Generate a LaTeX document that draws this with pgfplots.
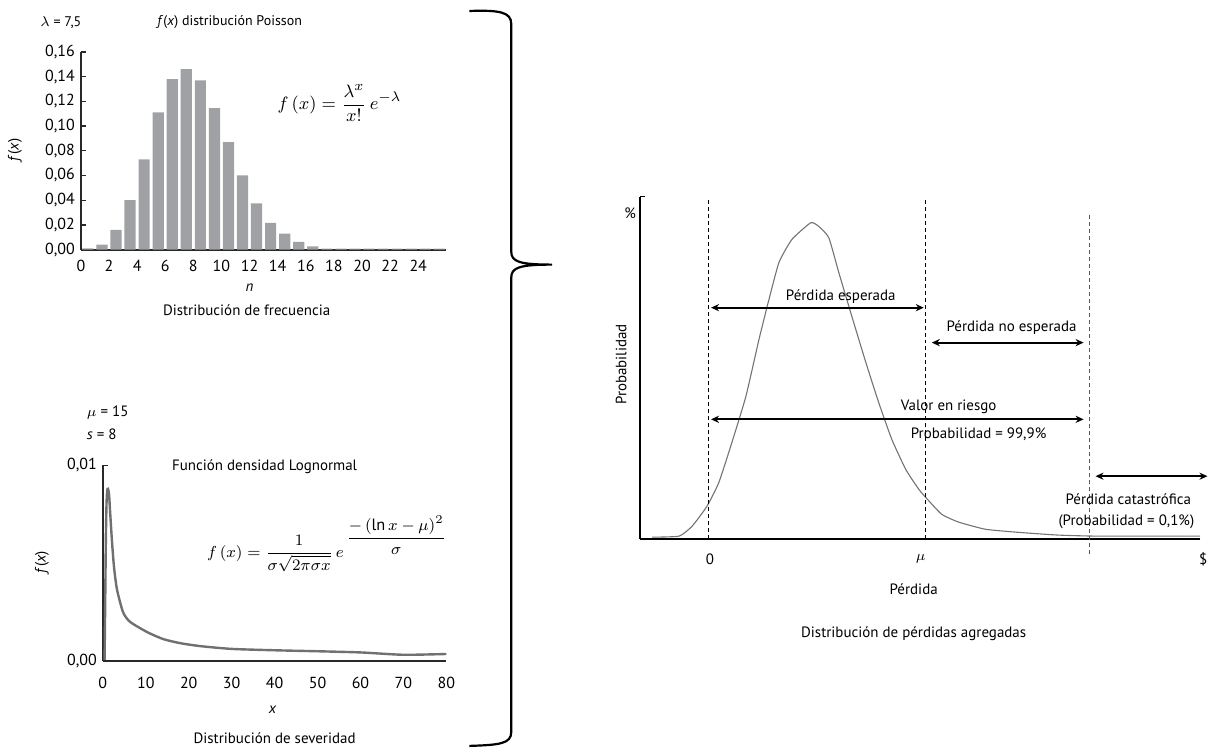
\documentclass[border=0pt]{standalone}
\usepackage{amsmath}
\usepackage{fontspec}
\setmainfont{PT Sans}
\usepackage{pgfplots}
\usepackage{pgfplotstable}
\pgfplotsset{compat=1.18}
\usetikzlibrary{arrows.meta}
\definecolor{barg}{RGB}{160,161,165}
\definecolor{curveg}{RGB}{112,112,112}
\definecolor{axg}{RGB}{40,40,40}
\newcommand\fs[1]{\fontsize{#1}{#1}\selectfont}

\pgfplotstableread{
n p
0.5 0.0010
1.5 0.0040
2.5 0.0160
3.5 0.0400
4.5 0.0730
5.5 0.1110
6.5 0.1380
7.5 0.1460
8.5 0.1370
9.5 0.1145
10.5 0.0870
11.5 0.0600
12.5 0.0374
13.5 0.0216
14.5 0.0130
15.5 0.0062
16.5 0.0027
17.5 0.0008
18.5 0.0008
19.5 0.0008
20.5 0.0008
21.5 0.0008
22.5 0.0008
23.5 0.0008
24.5 0.0008
25.5 0.0008
}\poisson

\pgfplotstableread{
x y
0.40 0.0000
0.55 0.0030
0.70 0.0062
0.85 0.0080
1.00 0.0087
1.20 0.0088
1.45 0.0085
1.70 0.0076
2.10 0.0062
2.60 0.0048
3.30 0.00365
4.70 0.0025
6.35 0.0020
10.4 0.00147
14.1 0.00112
18.1 0.00091
22.8 0.00076
30 0.00062
40 0.00055
50 0.00050
60 0.00044
70 0.00032
80 0.00036
}\lognorm

\pgfplotstableread{
x y
-25.7 0.6
-13.3 0.9
-7.3 3.8
-0.5 9.6
5.0 16.6
11.0 28.3
17.4 41.7
23.4 58.3
28.0 70.0
32.6 80.8
38.5 87.5
47.2 92.4
50.9 91.3
55.5 88.0
60.1 77.8
66.1 65.0
72.5 51.6
78.4 39.9
84.4 29.2
90.8 20.4
96.8 14.6
100 12.2
107.3 7.3
115.1 5.0
127.5 2.9
142.7 2.0
161 1.2
179.4 0.9
226 0.9
}\agg

\begin{document}
\begin{tikzpicture}[x=0.5pt,y=-0.5pt]
\path (0,0) rectangle (1214,750);
\coordinate (A1) at (81,250);
\coordinate (A2) at (103,662);
\coordinate (A3) at (641,540);

% ---------------- Poisson ----------------
\begin{axis}[
  at={(A1)}, anchor=south west,
  scale only axis, width=183pt, height=99pt,
  xmin=0, xmax=26, ymin=0, ymax=0.16,
  axis lines*=left,
  axis line style={axg, line width=0.9pt},
  xtick={0,2,...,24},
  ytick={0,0.02,0.04,0.06,0.08,0.10,0.12,0.14,0.16},
  scaled y ticks=false,
  /pgf/number format/fixed,
  /pgf/number format/fixed zerofill,
  /pgf/number format/precision=2,
  /pgf/number format/use comma,
  /pgf/number format/assume math mode=true,
  xticklabel={\pgfmathprintnumber[fixed,precision=0]{\tick}},
  tick label style={font=\fs{8}, text=black},
  xtick style={draw=none},
  ytick style={axg, line width=0.6pt},
  tick align=inside, major tick length=2.5pt,
  xticklabel style={yshift=-1.5pt},
  yticklabel style={xshift=0.5pt},
  clip=false,
]
\addplot[ybar, bar width=5.6pt, fill=barg, draw=none] table[x=n,y=p] {\poisson};
\end{axis}

% ---------------- Lognormal ----------------
\begin{axis}[
  at={(A2)}, anchor=south west,
  scale only axis, width=172pt, height=98pt,
  xmin=0, xmax=80, ymin=0, ymax=0.01,
  axis lines*=left,
  axis line style={axg, line width=0.9pt},
  xtick={0,10,...,80},
  ytick={0,0.01}, yticklabels={{0,00},{0,01}},
  scaled y ticks=false,
  /pgf/number format/assume math mode=true,
  tick label style={font=\fs{8}, text=black},
  xtick style={draw=none},
  ytick style={axg, line width=0.6pt},
  tick align=inside, major tick length=2.5pt,
  xticklabel style={yshift=-4.5pt},
  yticklabel style={xshift=0.5pt},
  clip=false,
]
\addplot[curveg, line width=1.2pt, smooth, tension=0.4] table[x=x,y=y] {\lognorm};
\addplot[axg, line width=0.9pt] coordinates {(0,0) (2.8,0)};
\end{axis}

% ---------------- Aggregate ----------------
\begin{axis}[
  at={(A3)}, anchor=south west,
  scale only axis, width=280.5pt, height=171.5pt,
  xmin=-31.2, xmax=226.1, ymin=0, ymax=100,
  axis lines*=left,
  axis line style={black, line width=0.75pt},
  xtick=\empty,
  ytick={100}, yticklabels={},
  ytick style={black, line width=0.6pt},
  tick align=inside, major tick length=2.5pt,
  clip=false,
]
\addplot[black!55, line width=0.55pt, smooth, tension=0.3] table[x=x,y=y] {\agg};
\draw[black, dash pattern=on 2pt off 1.5pt, line width=0.5pt] (axis cs:0,0) -- (axis cs:0,100);
\draw[black, dash pattern=on 2pt off 1.5pt, line width=0.5pt] (axis cs:100,0) -- (axis cs:100,100);
\draw[black!65, dash pattern=on 2pt off 1.5pt, line width=0.5pt] (axis cs:175.2,-4.4) -- (axis cs:175.2,95.3);
\draw[{Stealth[length=4pt,width=3.6pt]}-{Stealth[length=4pt,width=3.6pt]}, line width=0.9pt] (axis cs:1.4,67.6) -- (axis cs:99.1,67.6);
\draw[{Stealth[length=4pt,width=3.6pt]}-{Stealth[length=4pt,width=3.6pt]}, line width=0.9pt] (axis cs:102.8,57.4) -- (axis cs:172.5,57.4);
\draw[{Stealth[length=4pt,width=3.6pt]}-{Stealth[length=4pt,width=3.6pt]}, line width=0.9pt] (axis cs:1.4,35.0) -- (axis cs:172.5,35.0);
\draw[{Stealth[length=4pt,width=3.6pt]}-{Stealth[length=4pt,width=3.6pt]}, line width=0.9pt] (axis cs:178,18.4) -- (axis cs:229.4,18.4);
\end{axis}

% ---------------- texts: Poisson ----------------
\node[font=\fs{7}] at (61,23) {$\lambda$ = 7,5};
\node[font=\fs{7}] at (230,22) {\textit{f}(\textit{x}) distribución Poisson};
\node[font=\fs{7.5}, rotate=90] at (15,150) {\textit{f}(\textit{x})};
\node[font=\fs{9.5}] at (340,103) {$f\left(x\right)=\dfrac{\lambda^{x}}{x!}\,e^{-\lambda}$};
\node[font=\fs{7.5}] at (250,288) {\textit{n}};
\node[font=\fs{7.5}] at (247,311) {Distribución de frecuencia};

% ---------------- texts: Lognormal ----------------
\node[font=\fs{7.5}, anchor=west] at (80,413) {$\mu$ = 15};
\node[font=\fs{7.5}, anchor=west] at (80,435) {\textit{s} = 8};
\node[font=\fs{7.5}] at (265,467) {Función densidad Lognormal};
\node[font=\fs{7.5}, rotate=90] at (42,563) {\textit{f}(\textit{x})};
\node[font=\fs{8.2}] at (327,545) {$f\left(x\right)=\dfrac{1}{\sigma\sqrt{2\pi\sigma x}}\,e\,\raisebox{7.5pt}{$\dfrac{-\left(\ln x-\mu\right)^{2}}{\sigma}$}$};
\node[font=\fs{7.5}] at (273,711) {\textit{x}};
\node[font=\fs{7.5}] at (275,739) {Distribución de severidad};

% ---------------- brace ----------------
\draw[line width=1.1pt] (470,11) .. controls (500,10) and (512,12) .. (512,24) -- (512,252)
  .. controls (512,262) and (520,265) .. (553,265)
  .. controls (520,265) and (512,268) .. (512,278) -- (512,733)
  .. controls (512,745) and (500,746) .. (470,747);

% ---------------- texts: aggregate ----------------
\node[font=\fs{7.5}] at (631,214) {\%};
\node[font=\fs{7.5}, rotate=90] at (622,365) {Probabilidad};
\node[font=\fs{7.5}] at (842,297) {Pérdida esperada};
\node[font=\fs{7.5}] at (1013,328) {Pérdida no esperada};
\node[font=\fs{7.5}] at (950,407) {Valor en riesgo};
\node[font=\fs{7.5}] at (980,435) {Probabilidad = 99,9\%};
\node[font=\fs{7.5}] at (1130,500) {Pérdida catastrófica};
\node[font=\fs{7.5}] at (1128,523) {(Probabilidad = 0,1\%)};
\node[font=\fs{7.5}] at (711,560) {0};
\node[font=\fs{7.5}] at (922,560) {$\mu$};
\node[font=\fs{7.5}] at (1205,560) {\$};
\node[font=\fs{7.5}] at (915,590) {Pérdida};
\node[font=\fs{7.5}] at (915,635) {Distribución de pérdidas agregadas};
\end{tikzpicture}
\end{document}
